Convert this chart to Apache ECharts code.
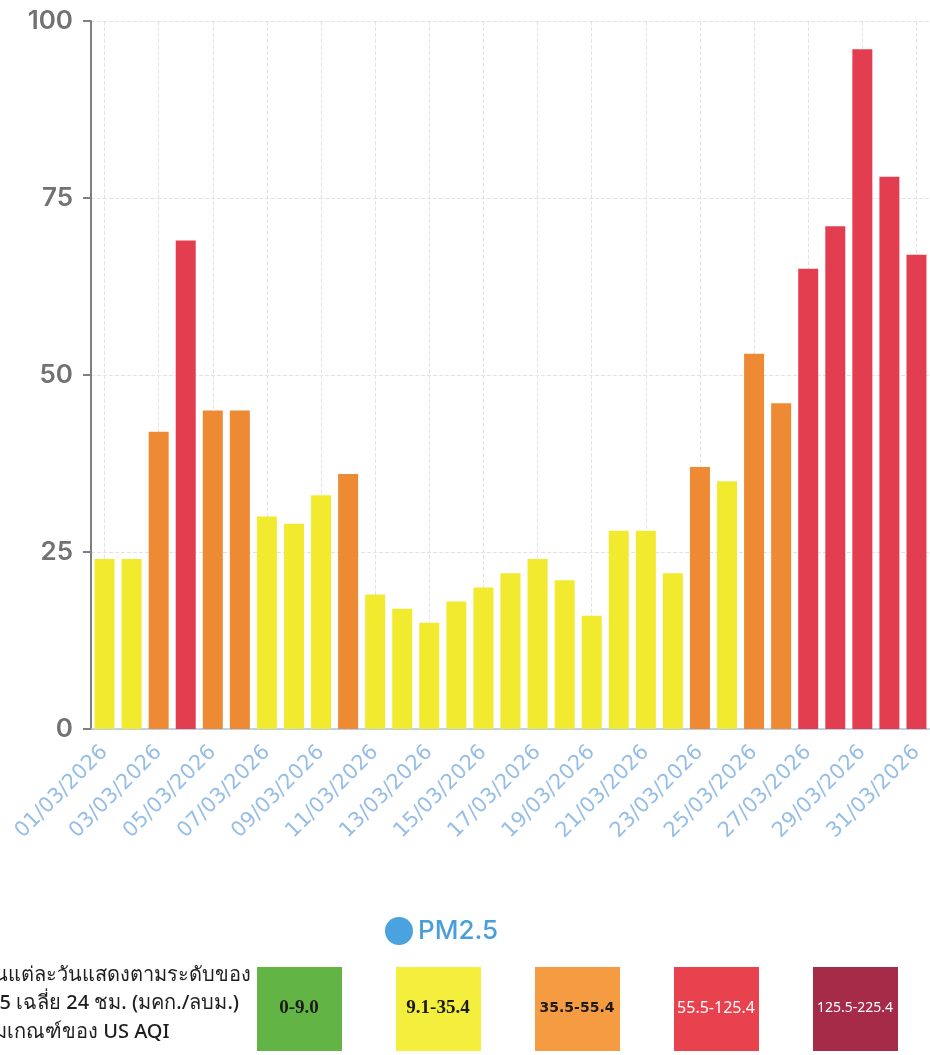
<!DOCTYPE html>
<html>
<head>
<meta charset="utf-8">
<script src="https://cdn.jsdelivr.net/npm/echarts@6/dist/echarts.min.js"></script>
<style>
  html, body { margin: 0; padding: 0; background: #fff; }
  #chart { width: 930px; height: 1055px; }
</style>
</head>
<body>
<div id="chart"></div>
<script>
// วันที่ (หมวดหมู่แกน x)
const days = [
  '01/03/2026', '02/03/2026', '03/03/2026', '04/03/2026', '05/03/2026', '06/03/2026',
  '07/03/2026', '08/03/2026', '09/03/2026', '10/03/2026', '11/03/2026', '12/03/2026',
  '13/03/2026', '14/03/2026', '15/03/2026', '16/03/2026', '17/03/2026', '18/03/2026',
  '19/03/2026', '20/03/2026', '21/03/2026', '22/03/2026', '23/03/2026', '24/03/2026',
  '25/03/2026', '26/03/2026', '27/03/2026', '28/03/2026', '29/03/2026', '30/03/2026',
  '31/03/2026'
];
// PM2.5 เฉลี่ย 24 ชม.
const pm25 = [24, 24, 42, 69, 45, 45, 30, 29, 33, 36, 19, 17, 15, 18, 20, 22,
  24, 21, 16, 28, 28, 22, 37, 35, 53, 46, 65, 71, 96, 78, 67];

// ช่วงระดับ US AQI
const rangeLabels = ['0-9.0', '9.1-35.4', '35.5-55.4', '55.5-125.4', '125.5-225.4'];
const rangeMin = [0, 9.1, 35.5, 55.5, 125.5];
const rangeMax = [9.0, 35.4, 55.4, 125.4, 225.4];
const barColors = ['#5cb343', '#f2ea2e', '#ef8a34', '#e33e4f', '#a32a48'];
const boxColors = ['#62b545', '#f4ee3c', '#f59b41', '#e8424f', '#a52b49'];
const boxTextColors = ['#1a1a1a', '#1a1a1a', '#1a1a1a', '#ffffff', '#ffffff'];
const boxFonts = ['bold 19px "Liberation Serif"', 'bold 19px "Liberation Serif"',
  'bold 14px "DejaVu Sans"', '16px "Noto Sans"', '14px "Noto Sans"'];

const noteLines = [
  'ในแต่ละวันแสดงตามระดับของ',
  'PM2.5 เฉลี่ย 24 ชม. (มคก./ลบม.)',
  'ตามเกณฑ์ของ US AQI'
];
const noteX = [-16, -48, -30];

let myChart = echarts.init(document.getElementById('chart'));

let pieces = rangeLabels.map(function (label, i) {
  return { min: rangeMin[i], max: rangeMax[i], color: barColors[i] };
});

let graphics = [];
// กล่องสีด้านล่าง
rangeLabels.forEach(function (label, i) {
  graphics.push({
    type: 'rect',
    left: 257 + i * 139,
    top: 967,
    shape: { width: 85, height: 84 },
    style: { fill: boxColors[i] }
  });
  graphics.push({
    type: 'text',
    x: 257 + i * 139 + 42,
    y: 967 + 41,
    style: {
      text: label,
      fill: boxTextColors[i],
      font: boxFonts[i],
      textAlign: 'center',
      textVerticalAlign: 'middle'
    }
  });
});
// ข้อความคำอธิบาย
noteLines.forEach(function (line, i) {
  graphics.push({
    type: 'text',
    x: noteX[i],
    y: 975 + i * 28.5,
    style: {
      text: line,
      fill: '#1e1e1e',
      font: '500 20px "Noto Sans", sans-serif',
      textAlign: 'left',
      textVerticalAlign: 'middle'
    }
  });
});

let options = {
  backgroundColor: '#fff',
  animation: false,
  grid: {
    left: 91,
    top: 21,
    width: 841,
    bottom: 326
  },
  legend: {
    left: 380,
    top: 912,
    icon: 'circle',
    itemWidth: 28,
    itemHeight: 28,
    itemGap: 7,
    textStyle: {
      color: '#4a9fda',
      fontSize: 26,
      fontFamily: 'Inter',
      fontWeight: 500
    },
    data: ['PM2.5']
  },
  visualMap: {
    type: 'piecewise',
    show: false,
    dimension: 1,
    seriesIndex: 0,
    pieces: pieces
  },
  xAxis: {
    type: 'category',
    data: days,
    boundaryGap: true,
    axisLine: {
      lineStyle: { color: '#a9c6e4', width: 1.5 }
    },
    axisTick: {
      alignWithLabel: true,
      interval: 1,
      length: 8,
      lineStyle: { color: '#8fb6e0', width: 1.5 }
    },
    axisLabel: {
      interval: 1,
      rotate: 45,
      margin: 20,
      color: '#96bee6',
      fontSize: 21,
      fontFamily: 'DejaVu Sans'
    },
    splitLine: {
      show: true,
      alignWithLabel: true,
      interval: 1,
      lineStyle: { color: '#e2e2e2', type: 'dashed', width: 1 }
    }
  },
  yAxis: {
    type: 'value',
    min: 0,
    max: 100,
    interval: 25,
    axisLine: {
      show: true,
      lineStyle: { color: '#7f7f7f', width: 2 }
    },
    axisTick: {
      show: true,
      length: 8,
      lineStyle: { color: '#7f7f7f', width: 2 }
    },
    axisLabel: {
      margin: 18,
      color: '#727272',
      fontSize: 26,
      fontFamily: 'Inter',
      fontWeight: 600
    },
    splitLine: {
      lineStyle: { color: '#e2e2e2', type: 'dashed', width: 1 }
    }
  },
  series: [
    {
      name: 'PM2.5',
      type: 'bar',
      data: pm25,
      barWidth: 20,
      itemStyle: { color: '#4aa3df' }
    }
  ],
  graphic: graphics
};

myChart.setOption(options);
</script>
</body>
</html>
